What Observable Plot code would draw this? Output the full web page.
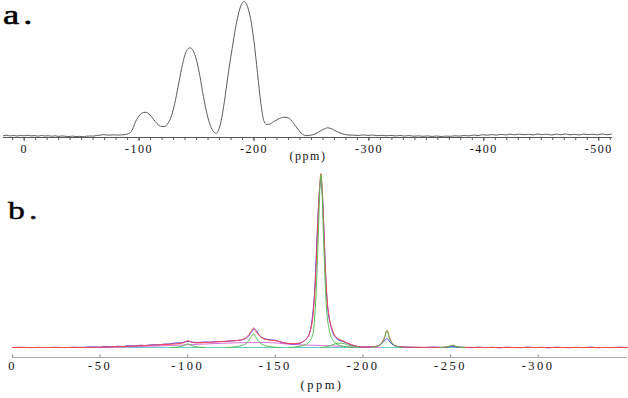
<!DOCTYPE html>
<html><head><meta charset="utf-8">
<script src="https://cdn.jsdelivr.net/npm/d3@7"></script>
<script src="https://cdn.jsdelivr.net/npm/@observablehq/plot@0.6"></script>
<style>
body{margin:0;background:#fff;}
#wrap{position:relative;width:628px;height:398px;overflow:hidden;background:#fff;}
#pa,#pb{position:absolute;left:0;}
#pa{top:0}
#pb{top:171px}
#pa svg text{letter-spacing:1.5px}
#pb svg text{letter-spacing:2.5px}
.lab{position:absolute;font-family:"Liberation Serif",serif;line-height:1;transform-origin:0 0;letter-spacing:3px;color:#000;white-space:nowrap;}
#la{left:3px;top:2px;font-size:27px;transform:scaleX(1.35);-webkit-text-stroke:0.6px #000;}
#lb{left:8px;top:198px;font-size:25px;transform:scaleX(1.35);-webkit-text-stroke:0.4px #000;}
</style></head><body>
<div id="wrap">
<div id="pa"></div><div id="pb"></div>
<div class="lab" id="la">a.</div><div class="lab" id="lb">b.</div>
</div>
<script>
// ---------- Panel a : spectrum (ppm, intensity) ----------
const aPpm = [18,15,12,9,6,3,0,-3,-6,-9,-12,-15,-18,-21,-24,-27,-30,-33,-36,-39,-42,-45,-48,-51,-54,-57,-60,-63,-66,-69,-72,-75,-78,-81,-84,-87,-89,-91,-93,-95,-97,-99,-101,-104,-106,-108,-111,-114,-117,-120,-122,-125,-128,-131,-134,-137,-140,-142,-144.5,-147,-150,-153,-156,-159,-162,-165,-167,-169,-172,-175,-178,-181,-184,-187,-189.5,-191.5,-194,-197,-200,-203,-206,-208.5,-211,-214,-218,-222,-226,-230,-234,-238,-242,-245,-249,-253,-257,-261,-264,-268,-272,-277,-282,-287,-291,-295,-299,-303,-307,-311,-315,-319,-323,-327,-331,-335,-339,-343,-347,-351,-355,-359,-363,-367,-371,-375,-379,-383,-387,-391,-395,-399,-403,-407,-411,-415,-419,-423,-427,-431,-435,-439,-443,-447,-451,-455,-459,-463,-467,-471,-475,-479,-483,-487,-491,-495,-499,-503,-507,-511];
const aIntensity = [1.8,2.2,1.6,2.0,1.5,2.1,1.7,2.2,1.6,1.9,1.4,2.0,1.5,1.8,1.3,1.7,1.1,1.6,1.2,1.0,1.4,0.9,1.2,0.7,1.3,1.5,1.4,2.0,2.3,2.9,2.5,2.4,2.7,2.4,2.6,2.8,3.2,4,5.5,10,16,20,23,25,25.3,24,20.5,16,12.5,11,11,14,21,34,51,69,83,88,89.7,87,77,61,41,24,12,5.5,4,7,20,42,67,89,110,126,134,136,132,119,96,65,34,17,13,13.5,16.5,19,20.3,19.5,15,8.5,3.5,2,2.2,3.5,6,8.5,9.7,8.5,6,3.7,2.5,2.3,2.0,2.6,2.1,2.5,1.8,2.2,1.7,2.1,1.6,2.0,1.5,1.9,1.3,1.7,1.2,1.6,1.1,1.5,1.0,1.4,1.2,1.7,1.4,2.0,1.6,2.4,2.0,2.8,2.3,2.9,2.4,3.1,2.6,3.3,2.7,3.4,2.8,3.2,2.6,3.5,2.9,3.3,2.5,3.4,2.8,3.6,2.7,3.2,2.6,3.4,2.9,3.3,2.7,3.5,2.8,3.4];
const aTickLabels = [0,-100,-200,-300,-400,-500];
const aMinorTicks = d3.range(10, -511, -10);

// ---------- Panel b : experimental, fit, components ----------
const bExpPpm = [0,-5,-10,-15,-20,-25,-30,-35,-40,-45,-50,-53,-56,-60,-63,-66,-70,-73,-76,-80,-83,-86,-90,-93,-96,-99,-101,-103,-106,-110,-113,-116,-120,-124,-127,-130,-133,-135,-136.5,-138,-139.5,-141,-143,-146,-148,-150,-152,-154,-157,-160,-163,-165,-167,-169,-171,-172.5,-174,-175,-176,-177,-178,-179,-180,-181.5,-183,-184.5,-186,-188,-190,-192,-194.5,-197,-200,-203,-206,-209,-211,-212.5,-213.7,-215,-216.5,-218.5,-221,-225,-230,-235,-240,-245,-249,-251,-253,-257,-262,-266,-270,-274,-278,-282,-286,-290,-294,-298,-302,-306,-310,-314,-318,-322,-326,-330,-334,-338,-342,-346,-351];
const bExpIntensity = [10,10.2,9.9,10.1,10,10.2,9.9,10.3,10.1,10.6,10.3,11,10.6,11.3,11,11.8,11.5,12.3,12,12.8,12.5,13.3,13.6,14.5,14.6,15.8,16,15.2,15,15.5,15.3,15.8,16,16.4,16.8,17.3,19,22,26,28.5,26,22,19.5,18,17.5,17.2,16,15,14,13.5,13.8,15,17.5,22,38,68,128,162,178,158,115,72,48,33,24,20,17.5,16.5,15,13.5,12,11,10.5,10.5,10.8,12,14.5,17,19,16.5,13.5,11.5,10.8,10.4,10.2,10,10.4,10.1,10.6,11.2,10.5,10.2,9.8,10.3,9.9,10.2,9.7,10.3,10,9.8,10.4,9.9,10.2,9.7,10.3,10,9.8,10.2,9.9,10.4,9.8,10.1,9.9,10.3,10];
const bFitPpm = [0,-40,-50,-60,-70,-80,-90,-95,-98,-100,-102,-105,-110,-115,-120,-125,-130,-133,-135,-136.5,-137.5,-139,-141,-143,-146,-150,-154,-158,-161,-164,-166,-168,-170,-171.5,-173,-174.5,-175.5,-176,-176.5,-177.5,-178.5,-179.5,-181,-182.5,-184,-186,-188,-190,-192,-195,-198,-202,-206,-209,-211,-212.5,-213.7,-215,-216.5,-218.5,-221,-226,-235,-246,-250,-251.5,-253,-257,-270,-351];
const bFitIntensity = [10,10,10.3,10.8,11.5,12.3,13.2,13.9,15,16.8,15.5,14.6,15,15.5,16,16.6,17.5,19.5,23,27,29.5,26,21.5,19,17.6,16.8,15.2,14,13.8,14.5,16,19.5,27,42,80,145,176,184,176,138,92,60,38,28,22,18.5,17,15.5,13.8,12,10.8,10.4,10.7,12,15.5,21,27,21,15,12,10.8,10.3,10.1,10.2,11.5,12.3,11,10.2,10,10];
// individual fitted lines (green), one array pair per component
const g1Ppm = [-90,-94,-97,-99,-100,-101,-103,-106,-110];
const g1Int = [10,10.5,11.5,13,13.7,13,11.5,10.5,10];
const g2Ppm = [-122,-127,-131,-134,-136,-137.5,-139,-141,-144,-148,-153];
const g2Int = [10,10.6,12,15,20,23.7,20,15,12,10.6,10];
const g3Ppm = [-158,-165,-169,-171.5,-173,-174.5,-175.5,-176,-176.5,-177.5,-179,-180.5,-183,-187,-194];
const g3Int = [10,11.5,15,24,55,120,172,183,172,120,55,30,17,12,10];
const g4Ppm = [-176,-180,-183,-186,-188,-191,-194,-198];
const g4Int = [10,11,13,14.3,14.3,13,11,10];
const g5Ppm = [-205,-208,-210.5,-212.3,-213.7,-215.1,-216.9,-219.4,-222];
const g5Int = [10,11,13.5,19,27,19,13.5,11,10];
const g6Ppm = [-244,-248,-250,-251,-252,-254,-258];
const g6Int = [10,10.7,11.8,12.2,11.8,10.7,10];
// broad component (magenta) and baseline (cyan)
const broadPpm = [-50,-70,-90,-110,-130,-145,-160,-170,-180,-190,-200,-210];
const broadInt = [10,10.8,12,13.5,14.8,15,13,12.3,11.8,11,10.3,10];
const basePpm = [0,-351];
const baseInt = [10,10];
const bTickLabels = [0,-50,-100,-150,-200,-250,-300];

const pts = (xs, ys, extra = {}) => xs.map((x, i) => ({x, y: ys[i], ...extra}));

// ---------- draw panel a ----------
const plotA = Plot.plot({
  width: 628, height: 171,
  marginLeft: 3, marginRight: 16, marginTop: 0, marginBottom: 34,
  x: {domain: [18, -512], label: null},
  y: {domain: [0, 137], axis: null, label: null},
  style: {fontFamily: "'Liberation Serif', serif", fontSize: "12px", background: "transparent", color: "#111", overflow: "visible"},
  marks: [
    Plot.ruleY([0], {stroke: "#555", strokeWidth: 1}),
    Plot.axisX(aMinorTicks, {tickSize: 3, tickFormat: () => "", stroke: "#555", label: null}),
    Plot.axisX(aTickLabels, {tickSize: 4, tickPadding: 3, tickFormat: d => String(d), stroke: "#555", fill: "#111", label: null}),
    Plot.line(pts(aPpm, aIntensity), {x: "x", y: "y", stroke: "#4a4a4a", strokeWidth: 0.9, curve: "monotone-x"}),
    Plot.text(["(ppm)"], {frameAnchor: "bottom", dy: 22, text: d => d, fill: "#111"})
  ]
});
document.getElementById("pa").appendChild(plotA);

// ---------- draw panel b ----------
const greens = [
  ...pts(g1Ppm, g1Int, {c: 1}), ...pts(g2Ppm, g2Int, {c: 2}), ...pts(g3Ppm, g3Int, {c: 3}),
  ...pts(g4Ppm, g4Int, {c: 4}), ...pts(g5Ppm, g5Int, {c: 5}), ...pts(g6Ppm, g6Int, {c: 6})
];
const plotB = Plot.plot({
  width: 628, height: 227,
  marginLeft: 12, marginRight: 1, marginTop: 0, marginBottom: 41,
  x: {domain: [0, -351], label: null},
  y: {domain: [0, 186], axis: null, label: null},
  style: {fontFamily: "'Liberation Serif', serif", fontSize: "12.5px", background: "transparent", color: "#111", overflow: "visible"},
  marks: [
    Plot.ruleY([0], {stroke: "#aaa", strokeWidth: 1}),
    Plot.ruleX(bTickLabels, {y1: 0, y2: 2.5, stroke: "#888"}),
    Plot.axisX(bTickLabels, {tickSize: 0, tickPadding: 4, tickFormat: d => String(d), fill: "#111", label: null}),
    Plot.line(pts(basePpm, baseInt), {x: "x", y: "y", stroke: "#66cccc", strokeWidth: 1}),
    Plot.line(pts(broadPpm, broadInt), {x: "x", y: "y", stroke: "#e070e0", strokeWidth: 1, curve: "monotone-x"}),
    Plot.line(pts(bExpPpm, bExpIntensity), {x: "x", y: "y", stroke: "#3a3aff", strokeWidth: 1, curve: "monotone-x"}),
    Plot.line(pts(bFitPpm, bFitIntensity), {x: "x", y: "y", stroke: "#ff4848", strokeWidth: 1, curve: "monotone-x"}),
    Plot.line(greens, {x: "x", y: "y", z: "c", stroke: "#55c055", strokeWidth: 1, curve: "monotone-x"}),
    Plot.text(["(ppm)"], {frameAnchor: "bottom", dx: 2, dy: 31, text: d => d, fill: "#111"})
  ]
});
document.getElementById("pb").appendChild(plotB);
</script>
</body></html>
